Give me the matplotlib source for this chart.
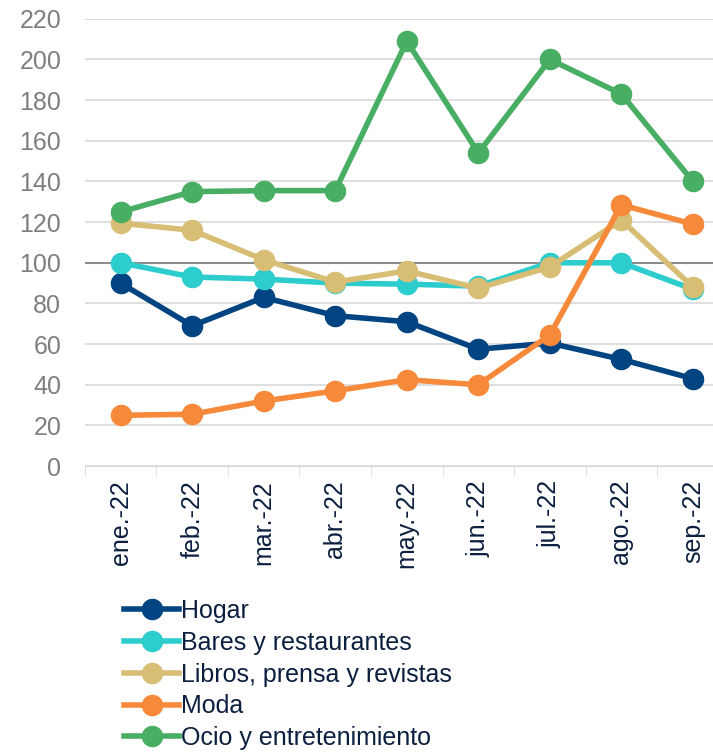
import matplotlib
matplotlib.use('Agg')
import matplotlib.pyplot as plt

plt.rcParams['font.family'] = ['Liberation Sans', 'DejaVu Sans']

months = ['ene.-22', 'feb.-22', 'mar.-22', 'abr.-22', 'may.-22',
          'jun.-22', 'jul.-22', 'ago.-22', 'sep.-22']
hogar = [90, 69, 83, 74, 71, 57.5, 60.5, 52.5, 43]
bares = [100, 93, 92, 90, 89.5, 88.5, 100, 100, 87]
libros = [119.5, 116, 101.5, 90.5, 96, 87.5, 98, 121, 88]
moda = [25, 25.5, 32, 37, 42.5, 40, 64.5, 128.5, 119]
ocio = [125, 135, 135.5, 135.5, 209, 154, 200, 183, 140]
yticks = [0, 20, 40, 60, 80, 100, 120, 140, 160, 180, 200, 220]

series = [
    ('Hogar', hogar, '#004481'),
    ('Bares y restaurantes', bares, '#2DCCCD'),
    ('Libros, prensa y revistas', libros, '#D8BE75'),
    ('Moda', moda, '#F7893B'),
    ('Ocio y entretenimiento', ocio, '#48AE64'),
]

fig = plt.figure(figsize=(7.13, 7.53), dpi=100)
ax = fig.add_axes([0.119, 0.381, 0.881, 0.594])

x = list(range(len(months)))
for name, vals, col in series:
    ax.plot(x, vals, '-o', color=col, lw=4, ms=14.5, label=name)

ax.set_yticks(yticks)
ax.set_ylim(0, 220)
ax.set_xticks(x)
ax.set_xticklabels(months, rotation=90, fontsize=18, color='#0C1F3F')
ax.set_xticks([i + 0.5 for i in range(-1, 8)], minor=True)
# the chart is cut off at the right edge, as in the source image
ax.set_xlim(-0.5, 8.28)
ax.tick_params(axis='x', which='major', length=0, pad=10)
ax.tick_params(axis='x', which='minor', length=7, color='#D9D9D9')
ax.tick_params(axis='y', length=0, labelsize=18, labelcolor='#7F7F7F', pad=17)

ax.grid(axis='y', color='#D9D9D9', lw=1.2, zorder=0)
ax.axhline(100, color='#8C8C8C', lw=1.5, zorder=1)
for s in ['top', 'right', 'left']:
    ax.spines[s].set_visible(False)
ax.spines['bottom'].set_color('#D9D9D9')
ax.set_axisbelow(True)

leg = fig.legend(loc='upper left', bbox_to_anchor=(0.174, 0.2045), frameon=False,
                 fontsize=18, handlelength=2.2, handletextpad=0.06,
                 labelspacing=0.31, borderpad=0, borderaxespad=0)
for t in leg.get_texts():
    t.set_color('#0C1F3F')

fig.savefig('out.png', dpi=100)
